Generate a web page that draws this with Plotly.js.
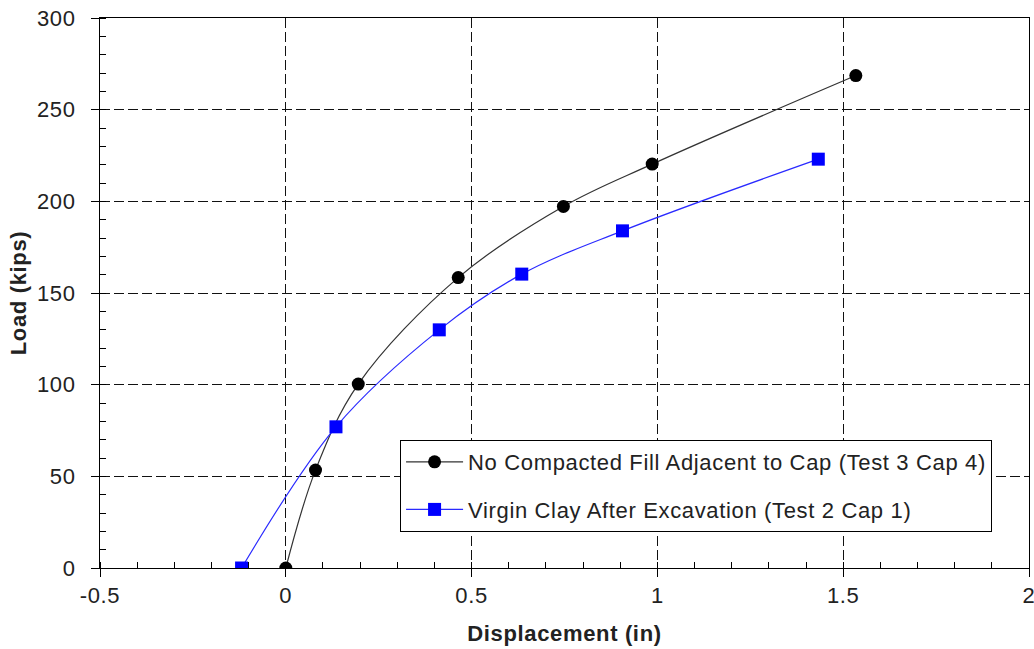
<!DOCTYPE html>
<html>
<head>
<meta charset="utf-8">
<script src="https://cdn.plot.ly/plotly-3.0.1.min.js"></script>
<style>
  html, body { margin: 0; padding: 0; background: #fff; }
  #chart { width: 1034px; height: 649px; }
  svg text { letter-spacing: 0.65px; }
</style>
</head>
<body>
<div id="chart"></div>
<script>
// Data
const seriesNames = [
  "No Compacted Fill Adjacent to Cap (Test 3 Cap 4)",
  "Virgin Clay After Excavation (Test 2 Cap 1)"
];
const noFillDisp = [0.0, 0.080, 0.195, 0.464, 0.747, 0.986, 1.534];
const noFillLoad = [0, 53.4, 100.3, 158.4, 197.2, 220.3, 268.6];
const virginDisp = [-0.119, 0.135, 0.413, 0.635, 0.906, 1.433];
const virginLoad = [0, 77, 129.9, 160.3, 183.9, 223];

const xTickVals = [-0.5, 0, 0.5, 1, 1.5, 2];
const xTickText = ["-0.5", "0", "0.5", "1", "1.5", "2"];
const yTickVals = [0, 50, 100, 150, 200, 250, 300];
const yTickText = ["0", "50", "100", "150", "200", "250", "300"];

const FONT = "'Liberation Sans', Arial, sans-serif";

const traces = [
  {
    x: noFillDisp, y: noFillLoad, name: seriesNames[0],
    type: "scatter", mode: "lines+markers",
    line: { color: "#333333", width: 1.2, shape: "spline", smoothing: 1 },
    marker: { symbol: "circle", size: 13, color: "#000000" },
    legendgroup: "a"
  },
  {
    x: virginDisp, y: virginLoad, name: seriesNames[1],
    type: "scatter", mode: "lines+markers",
    line: { color: "#2a2aff", width: 1.2, shape: "spline", smoothing: 1 },
    marker: { symbol: "square", size: 13, color: "#0000ff" },
    legendgroup: "b"
  }
];

const axisCommon = {
  showline: true, linecolor: "#000", linewidth: 1, mirror: true,
  showgrid: true, gridcolor: "#111", gridwidth: 1, griddash: "10px,4px",
  zeroline: false,
  ticks: "outside", ticklen: 8, tickcolor: "#000", tickwidth: 1,
  tickfont: { family: FONT, size: 22, color: "#222" },
  tickmode: "array",
  ticklabeloverflow: "allow",
  fixedrange: true
};

const layout = {
  width: 1034, height: 649,
  margin: { l: 100, r: 5, t: 18, b: 81 },
  paper_bgcolor: "#fff", plot_bgcolor: "#fff",
  font: { family: FONT, size: 22, color: "#222" },
  showlegend: true,
  legend: {
    x: 0.323, y: 0.2327, xanchor: "left", yanchor: "top",
    bgcolor: "#fff", bordercolor: "#000", borderwidth: 1,
    font: { family: FONT, size: 22, color: "#222" },
    traceorder: "grouped", tracegroupgap: 16,
    itemwidth: 57
  },
  xaxis: Object.assign({}, axisCommon, {
    range: [-0.5, 2],
    tickvals: xTickVals, ticktext: xTickText,
    minor: { ticks: "inside", ticklen: 6, tickcolor: "#000", dtick: 0.1, showgrid: false },
    title: { text: "<b>Displacement (in)</b>", font: { family: FONT, size: 22, color: "#222" }, standoff: 18 }
  }),
  yaxis: Object.assign({}, axisCommon, {
    range: [0, 300],
    tickvals: yTickVals, ticktext: yTickText,
    ticklabelstandoff: 11,
    minor: { ticks: "inside", ticklen: 6, tickcolor: "#000", dtick: 10, showgrid: false },
    title: { text: "<b>Load (kips)</b>", font: { family: FONT, size: 22, color: "#222" }, standoff: 4 }
  }),
  hovermode: false
};

Plotly.newPlot("chart", traces, layout, { staticPlot: true, displayModeBar: false });
</script>
</body>
</html>
